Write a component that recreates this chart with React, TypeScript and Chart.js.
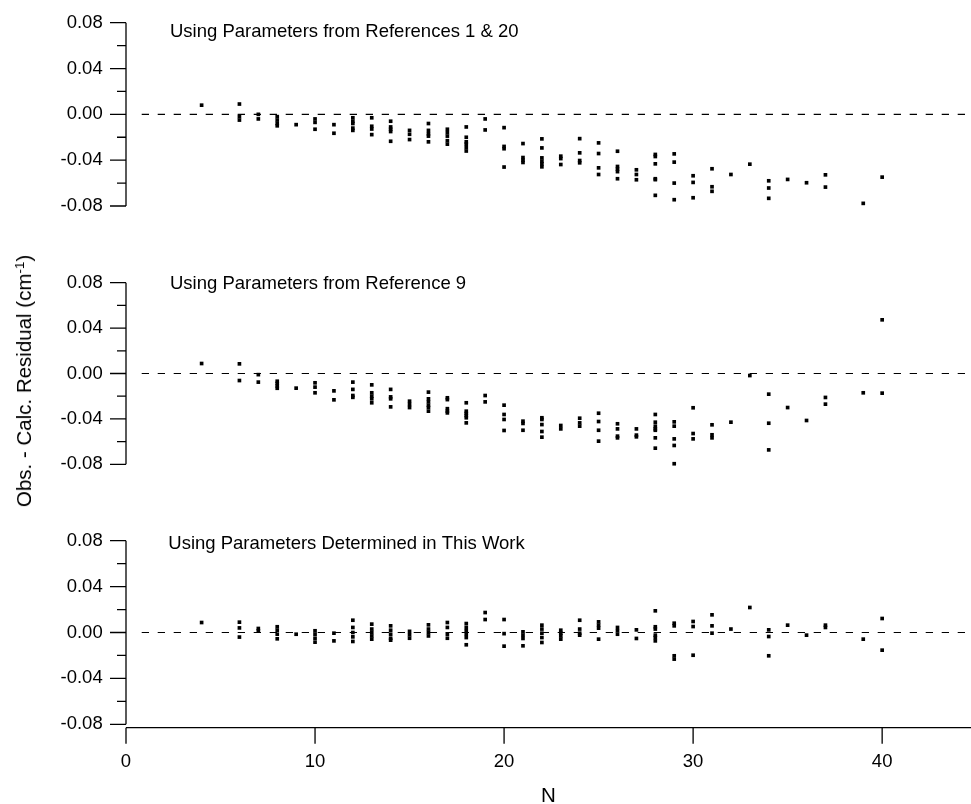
import React, { useEffect, useRef } from 'react';
import { Chart, registerables } from 'chart.js';

Chart.register(...registerables);

const FONT = '"Liberation Sans", Arial, Helvetica, sans-serif';

type Row = [number, number[]];

// Residuals (cm^-1) by N, panel 1: parameters from References 1 & 20
const ref1and20Residuals: Row[] = [
  [4, [0.008]],
  [6, [0.009, -0.002, -0.005]],
  [7, [0.0, -0.004]],
  [8, [-0.002, -0.005, -0.008, -0.01]],
  [9, [-0.009]],
  [10, [-0.004, -0.007, -0.013]],
  [11, [-0.009, -0.0165]],
  [12, [-0.003, -0.006, -0.008, -0.012, -0.014]],
  [13, [-0.003, -0.0104, -0.0128, -0.0177]],
  [14, [-0.006, -0.011, -0.013, -0.015, -0.0235]],
  [15, [-0.014, -0.0174, -0.022]],
  [16, [-0.008, -0.014, -0.017, -0.019, -0.024]],
  [17, [-0.013, -0.016, -0.019, -0.023, -0.026]],
  [18, [-0.011, -0.02, -0.024, -0.026, -0.029, -0.032]],
  [19, [-0.004, -0.0136]],
  [20, [-0.0116, -0.028, -0.03, -0.046]],
  [21, [-0.0255, -0.0377, -0.04, -0.042]],
  [22, [-0.0214, -0.0293, -0.038, -0.0409, -0.0432, -0.0458]],
  [23, [-0.0365, -0.0386, -0.0438]],
  [24, [-0.0212, -0.0336, -0.0403, -0.0423]],
  [25, [-0.0249, -0.0342, -0.0467, -0.0525]],
  [26, [-0.0322, -0.0455, -0.0478, -0.05, -0.0562]],
  [27, [-0.0484, -0.0525, -0.0571]],
  [28, [-0.035, -0.0368, -0.0432, -0.0562, -0.057, -0.0707]],
  [29, [-0.0345, -0.0417, -0.06, -0.0745]],
  [30, [-0.0536, -0.0594, -0.0728]],
  [31, [-0.0475, -0.0632, -0.0672]],
  [32, [-0.0525]],
  [33, [-0.0435]],
  [34, [-0.058, -0.0643, -0.0733]],
  [35, [-0.0568]],
  [36, [-0.0597]],
  [37, [-0.0528, -0.0635]],
  [39, [-0.0777]],
  [40, [-0.0548]],
];

// Panel 2: parameters from Reference 9
const ref9Residuals: Row[] = [
  [4, [0.0088]],
  [6, [0.0085, -0.0062]],
  [7, [-0.001, -0.0076]],
  [8, [-0.0068, -0.0088, -0.011, -0.013]],
  [9, [-0.0129]],
  [10, [-0.0082, -0.012, -0.017]],
  [11, [-0.0153, -0.0232]],
  [12, [-0.0076, -0.014, -0.0194, -0.021]],
  [13, [-0.01, -0.017, -0.02, -0.0223, -0.0258]],
  [14, [-0.014, -0.0206, -0.0223, -0.0294]],
  [15, [-0.0244, -0.0273, -0.03]],
  [16, [-0.0164, -0.0223, -0.025, -0.028, -0.03, -0.0332]],
  [17, [-0.0214, -0.023, -0.031, -0.0332, -0.0347]],
  [18, [-0.0258, -0.0332, -0.0352, -0.037, -0.039, -0.0435]],
  [19, [-0.0194, -0.025]],
  [20, [-0.0279, -0.0361, -0.0405, -0.0502]],
  [21, [-0.042, -0.044, -0.05]],
  [22, [-0.039, -0.0405, -0.045, -0.0511, -0.0561]],
  [23, [-0.0458, -0.0488]],
  [24, [-0.0394, -0.0435, -0.0464]],
  [25, [-0.035, -0.0423, -0.05, -0.0596]],
  [26, [-0.0443, -0.0488, -0.0552, -0.0567]],
  [27, [-0.0488, -0.0543, -0.0558]],
  [28, [-0.0361, -0.0429, -0.0464, -0.0488, -0.05, -0.0567, -0.0658]],
  [29, [-0.0426, -0.0464, -0.0576, -0.0634, -0.0795]],
  [30, [-0.0302, -0.0529, -0.0576]],
  [31, [-0.0452, -0.054, -0.0567]],
  [32, [-0.0429]],
  [33, [-0.0018]],
  [34, [-0.0182, -0.0438, -0.0673]],
  [35, [-0.03]],
  [36, [-0.0414]],
  [37, [-0.0211, -0.027]],
  [39, [-0.017]],
  [40, [0.0473, -0.0173]],
];

// Panel 3: parameters determined in this work
const thisWorkResiduals: Row[] = [
  [4, [0.0087]],
  [6, [0.009, 0.004, -0.004]],
  [7, [0.0035, 0.0015]],
  [8, [0.005, 0.002, -0.0015, -0.0055]],
  [9, [-0.0015]],
  [10, [0.0015, -0.0015, -0.005, -0.0084]],
  [11, [-0.0006, -0.0073]],
  [12, [0.0107, 0.0044, 0.0, -0.0038, -0.0078]],
  [13, [0.0073, 0.003, 0.0, -0.003, -0.0058]],
  [14, [0.0058, 0.002, -0.0015, -0.005, -0.0067]],
  [15, [0.001, -0.002, -0.005]],
  [16, [0.0067, 0.003, 0.0, -0.003]],
  [17, [0.0087, 0.0044, -0.0015, -0.005]],
  [18, [0.0078, 0.0044, 0.0015, -0.0015, -0.0044, -0.0107]],
  [19, [0.0174, 0.0113]],
  [20, [0.0113, -0.001, -0.0119]],
  [21, [0.0006, -0.0023, -0.0052, -0.0116]],
  [22, [0.0064, 0.003, -0.0006, -0.0044, -0.0087]],
  [23, [0.002, -0.0006, -0.003, -0.0058]],
  [24, [0.0107, 0.003, -0.0006, -0.0023]],
  [25, [0.0093, 0.0064, 0.0038, -0.0058]],
  [26, [0.0044, 0.0015, -0.0015]],
  [27, [0.0023, -0.0052]],
  [28, [0.0189, 0.005, 0.003, -0.0023, -0.0044, -0.0073]],
  [29, [0.0081, 0.0058, -0.0203, -0.0232]],
  [30, [0.0096, 0.0052, -0.0198]],
  [31, [0.0154, 0.0058, -0.0006]],
  [32, [0.003]],
  [33, [0.0218]],
  [34, [0.0023, -0.0035, -0.0203]],
  [35, [0.0064]],
  [36, [-0.0023]],
  [37, [0.0064, 0.0044]],
  [39, [-0.0058]],
  [40, [0.0122, -0.0154]],
];

const panelTitles = [
  'Using Parameters from References 1 & 20',
  'Using Parameters from Reference 9',
  'Using Parameters Determined in This Work',
];
const yMajorTicks = [-0.08, -0.04, 0, 0.04, 0.08];
const yMinorTicks = [-0.06, -0.02, 0.02, 0.06];
const xTickValues = [0, 10, 20, 30, 40];
const xMin = 0;
const xMax = 44.7;
const yMin = -0.08;
const yMax = 0.08;
const xTitle = 'N';

type PanelProps = {
  rows: Row[];
  title: string;
  top: number;
  height: number;
  padTop: number;
  padBottom: number;
  titleX: number;
  titleY: number;
  showX: boolean;
};

function makeAxesPlugin(p: PanelProps) {
  return {
    id: 'igorAxes',
    beforeDatasetsDraw(chart: any) {
      const { ctx, chartArea: a, scales } = chart;
      const y0 = scales.y.getPixelForValue(0);
      ctx.save();
      ctx.strokeStyle = '#000';
      ctx.lineWidth = 1.2;
      ctx.setLineDash([7.3, 8.7]);
      ctx.beginPath();
      ctx.moveTo(a.left + 15.7, y0);
      ctx.lineTo(a.right, y0);
      ctx.stroke();
      ctx.restore();
    },
    afterDraw(chart: any) {
      const { ctx, chartArea: a, scales } = chart;
      const ys = scales.y;
      const xs = scales.x;
      ctx.save();
      ctx.strokeStyle = '#000';
      ctx.lineWidth = 1.3;
      ctx.setLineDash([]);
      // y axis line
      ctx.beginPath();
      ctx.moveTo(a.left, ys.getPixelForValue(yMax));
      ctx.lineTo(a.left, ys.getPixelForValue(yMin));
      ctx.stroke();
      ctx.beginPath();
      for (const v of yMajorTicks) {
        const py = ys.getPixelForValue(v);
        ctx.moveTo(a.left - 16, py);
        ctx.lineTo(a.left, py);
      }
      for (const v of yMinorTicks) {
        const py = ys.getPixelForValue(v);
        ctx.moveTo(a.left - 9, py);
        ctx.lineTo(a.left, py);
      }
      ctx.stroke();
      if (p.showX) {
        const ay = a.bottom + 3.4;
        ctx.beginPath();
        ctx.moveTo(a.left, ay);
        ctx.lineTo(a.right, ay);
        for (const v of xTickValues) {
          const px = xs.getPixelForValue(v);
          ctx.moveTo(px, ay);
          ctx.lineTo(px, ay + 16);
        }
        ctx.stroke();
        ctx.fillStyle = '#000';
        ctx.font = `20.5px ${FONT}`;
        ctx.textAlign = 'center';
        ctx.textBaseline = 'alphabetic';
        ctx.fillText(xTitle, (a.left + a.right) / 2, 302);
      }
      ctx.fillStyle = '#000';
      ctx.font = `18.5px ${FONT}`;
      ctx.textAlign = 'left';
      ctx.textBaseline = 'alphabetic';
      ctx.fillText(p.title, p.titleX, p.titleY);
      ctx.restore();
    },
  };
}

function Panel(p: PanelProps) {
  const ref = useRef<HTMLCanvasElement>(null);
  useEffect(() => {
    if (!ref.current) return;
    const points = p.rows.flatMap(([n, vals]) => vals.map((v) => ({ x: n, y: v })));
    const chart = new Chart(ref.current, {
      type: 'scatter',
      data: {
        datasets: [
          {
            data: points,
            pointStyle: 'rect',
            pointRadius: 2.6,
            pointBorderWidth: 0,
            backgroundColor: '#000',
            borderColor: '#000',
            clip: false,
          },
        ],
      },
      options: {
        responsive: false,
        animation: false,
        devicePixelRatio: 1,
        events: [],
        layout: { autoPadding: false, padding: { top: p.padTop, bottom: p.padBottom, left: 0, right: 0 } },
        plugins: {
          legend: { display: false },
          tooltip: { enabled: false },
          title: { display: false },
        },
        scales: {
          x: {
            type: 'linear',
            min: xMin,
            max: xMax,
            display: p.showX,
            afterFit: (s: any) => {
              if (p.showX) s.height = 79.7;
            },
            grid: { display: false, drawTicks: true, tickLength: 26.3 },
            border: { display: false },
            ticks: {
              stepSize: 10,
              includeBounds: false,
              padding: 0,
              autoSkip: false,
              maxRotation: 0,
              color: '#000',
              font: { family: FONT, size: 18.5 },
              callback: (v: any) => (xTickValues.includes(Number(v)) ? String(v) : ''),
            },
          },
          y: {
            type: 'linear',
            min: yMin,
            max: yMax,
            afterFit: (s: any) => {
              s.width = 126;
            },
            grid: { display: false, drawTicks: true, tickLength: 23.3 },
            border: { display: false },
            ticks: {
              stepSize: 0.04,
              padding: 0,
              color: '#000',
              font: { family: FONT, size: 18.5 },
              callback: (v: any) => {
                const n = Number(v);
                return Math.abs(n) < 1e-9 ? '0.00' : n.toFixed(2);
              },
            },
          },
        },
      } as any,
      plugins: [makeAxesPlugin(p)],
    });
    return () => chart.destroy();
  }, []);
  return (
    <canvas
      ref={ref}
      width={971}
      height={p.height}
      style={{ position: 'absolute', left: 0, top: p.top, display: 'block', width: 971, height: p.height }}
    />
  );
}

export default function App() {
  return (
    <div style={{ position: 'absolute', left: 0, top: 0, width: 971, height: 804, background: '#fff', overflow: 'hidden' }}>
      <Panel rows={ref1and20Residuals} title={panelTitles[0]} top={0} height={240} padTop={22.7} padBottom={34} titleX={170} titleY={37.3} showX={false} />
      <Panel rows={ref9Residuals} title={panelTitles[1]} top={250} height={240} padTop={32.7} padBottom={25.7} titleX={170} titleY={39.3} showX={false} />
      <Panel rows={thisWorkResiduals} title={panelTitles[2]} top={500} height={304} padTop={40.7} padBottom={0} titleX={168.3} titleY={48.7} showX={true} />
      <div
        style={{
          position: 'absolute',
          left: 24,
          top: 381,
          transform: 'translate(-50%, -50%) rotate(-90deg)',
          whiteSpace: 'nowrap',
          font: `20.5px ${FONT}`,
          color: '#000',
          lineHeight: '24px',
        }}
      >
        Obs. - Calc. Residual (cm<sup style={{ fontSize: '0.65em', verticalAlign: '0.55em', lineHeight: 0 }}>-1</sup>)
      </div>
    </div>
  );
}
